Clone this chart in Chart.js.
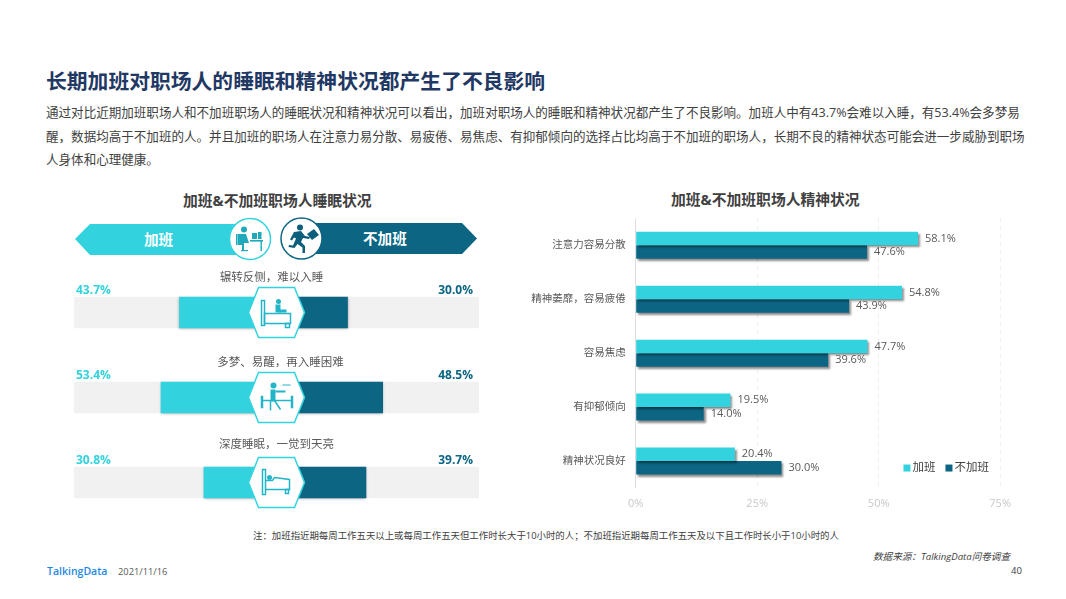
<!DOCTYPE html>
<html lang="zh-CN">
<head>
<meta charset="utf-8">
<title>长期加班对职场人的睡眠和精神状况都产生了不良影响</title>
<script src="https://cdn.jsdelivr.net/npm/chart.js@4/dist/chart.umd.min.js"></script>
<style>
  html, body { margin: 0; padding: 0; background: #fff; }
  body { width: 1066px; height: 599px; position: relative; overflow: hidden; font-family: "Open Sans", "Noto Sans CJK SC", sans-serif; }
  .txt { position: absolute; white-space: nowrap; }
  canvas, svg { position: absolute; }
  #title { left: 46px; top: 66px; font-size: 20.8px; line-height: 30px; font-weight: 700; color: #1f3864; }
  .para { left: 46px; font-size: 12.55px; line-height: 18px; color: #404040; }
  .sub { font-size: 14.8px; line-height: 20px; font-weight: 700; color: #404040; }
  .band { font-size: 14.6px; line-height: 20px; font-weight: 700; color: #fff; }
</style>
</head>
<body>
<div class="txt" id="title">长期加班对职场人的睡眠和精神状况都产生了不良影响</div>
<div class="txt para" style="top:104px">通过对比近期加班职场人和不加班职场人的睡眠状况和精神状况可以看出，加班对职场人的睡眠和精神状况都产生了不良影响。加班人中有43.7%会难以入睡，有53.4%会多梦易</div>
<div class="txt para" style="top:128px">醒，数据均高于不加班的人。并且加班的职场人在注意力易分散、易疲倦、易焦虑、有抑郁倾向的选择占比均高于不加班的职场人，长期不良的精神状态可能会进一步威胁到职场</div>
<div class="txt para" style="top:151px">人身体和心理健康。</div>

<div class="txt sub" style="left:183px;top:190px">加班&amp;不加班职场人睡眠状况</div>
<div class="txt sub" style="left:671px;top:189px">加班&amp;不加班职场人精神状况</div>

<svg style="left:70px;top:212px" width="415" height="54" viewBox="70 212 415 54">
  <polygon points="75,239 90,224 250,224 250,255 90,255" fill="#32d3de"/>
  <polygon points="300,223 462,223 477,238.5 462,254 300,254" fill="#0c6583"/>
  <circle cx="250" cy="239" r="20.5" fill="#fff" stroke="#32d3de" stroke-width="1.5"/>
  <circle cx="301.5" cy="238.5" r="20.5" fill="#fff" stroke="#0c6583" stroke-width="1.5"/>
  <g fill="#1fa9bb">
    <circle cx="244" cy="229.5" r="3"/>
    <path d="M238 234h8l3 9h-5v7h-2v-5h-4z"/>
    <rect x="236" y="234" width="1.6" height="11"/>
    <rect x="241" y="250" width="7" height="1.2"/>
    <rect x="250" y="240" width="13" height="1.6"/>
    <rect x="260.5" y="241" width="1.4" height="10"/>
    <rect x="252" y="233" width="5" height="6"/>
    <rect x="258" y="232" width="3.5" height="7"/>
  </g>
  <g fill="#0c5f7c">
    <circle cx="300" cy="227.5" r="3"/>
    <path d="M294 232l7-1 4 5 5 1-1 2-6-1-2 4 4 4v7h-2.500v-5.500l-5-3.500-3 4-6-1 .5-2 4 .5 3-7-2-1-2 3-2-1z"/>
    <path d="M307 234l7-5 5 6-7 5z"/>
  </g>
</svg>

<canvas id="sleepChart" width="405" height="255" style="left:74px;top:270px"></canvas>
<canvas id="moodChart" width="500" height="318" style="left:520px;top:202px"></canvas>

<div class="txt band" style="left:144px;top:229px">加班</div>
<div class="txt band" style="left:363px;top:228px">不加班</div>

<div class="txt" style="left:253px;top:529px;font-size:9.41px;line-height:14px;color:#404040">注：加班指近期每周工作五天以上或每周工作五天但工作时长大于10小时的人；不加班指近期每周工作五天及以下且工作时长小于10小时的人</div>
<div class="txt" style="left:873px;top:550px;font-size:9.6px;line-height:14px;font-style:italic;color:#404040">数据来源：TalkingData问卷调查</div>
<div class="txt" style="left:47px;top:564px;font-size:10.5px;line-height:14px;font-weight:600;color:#1e88e5">TalkingData</div>
<div class="txt" style="left:118px;top:565px;font-size:9.3px;line-height:14px;color:#595959">2021/11/16</div>
<div class="txt" style="left:1011px;top:564px;font-size:9.5px;line-height:14px;color:#404040">40</div>

<script>
const overtimeName = '加班';
const normalName = '不加班';
const cyan = '#32d3de';
const teal = '#0c6583';

// 睡眠状况
const sleepCategories = ['辗转反侧，难以入睡', '多梦、易醒，再入睡困难', '深度睡眠，一觉到天亮'];
const sleepOvertime = [43.7, 53.4, 30.8];
const sleepNormal = [30.0, 48.5, 39.7];

// both sides start at the edge of a hub hidden behind the hexagons
const sleepHub = 7.4;
const sleepAxisMax = 106.6;

// 精神状况
const moodCategories = ['注意力容易分散', '精神萎靡，容易疲倦', '容易焦虑', '有抑郁倾向', '精神状况良好'];
const moodOvertime = [58.1, 54.8, 47.7, 19.5, 20.4];
const moodNormal = [47.6, 43.9, 39.6, 14.0, 30.0];
const moodTicks = [0, 25, 50, 75];

const font = '"Open Sans", "Noto Sans CJK SC", sans-serif';

// icons are drawn around (0,0), in the middle of each hexagon
function iconAwake(ctx) {
  ctx.strokeRect(-15, -12, 3, 25);
  ctx.strokeRect(-12, 1, 26, 10);
  ctx.strokeRect(9, 11, 4, 4);
  ctx.beginPath(); ctx.arc(2, -11, 2.5, 0, Math.PI * 2); ctx.fill();
  ctx.fillRect(-1, -8, 5, 8);
  ctx.fillRect(3, -3, 7, 3);
}
function iconDream(ctx) {
  ctx.beginPath(); ctx.arc(-3, -12, 3, 0, Math.PI * 2); ctx.fill();
  ctx.fillRect(-6, -8, 5, 12);
  ctx.fillRect(-1, -7, 10, 2);
  ctx.beginPath(); ctx.moveTo(-6, 3); ctx.lineTo(-6, 13); ctx.moveTo(-2, 3); ctx.lineTo(4, 12); ctx.stroke();
  ctx.strokeRect(-15, -1, 1, 11);
  ctx.strokeRect(15, -1, 1, 11);
  ctx.beginPath(); ctx.moveTo(-15, 3); ctx.lineTo(15, 3); ctx.stroke();
  ctx.fillRect(6, -13, 8, 1);
}
function iconSleep(ctx) {
  ctx.strokeRect(-14, -13, 3, 25);
  ctx.beginPath(); ctx.arc(-7, -5, 2.5, 0, Math.PI * 2); ctx.fill();
  ctx.beginPath(); ctx.moveTo(-11, -2); ctx.lineTo(-4, -2); ctx.lineTo(-2, -5); ctx.lineTo(13, -3); ctx.lineTo(13, 7); ctx.lineTo(-11, 7); ctx.stroke();
  ctx.strokeRect(9, 7, 3, 4);
}
const sleepIcons = [iconAwake, iconDream, iconSleep];

// captions do not sit evenly over the rows in the original
const captionShift = [[-5, -35], [4, -35], [0, -38]];

const sleepDecor = {
  id: 'sleepDecor',
  beforeDatasetDraw(chart, args) {
    if (args.index > 1) return;
    chart.ctx.save();
    chart.ctx.shadowColor = 'rgba(0,0,0,0.35)';
    chart.ctx.shadowBlur = 3;
    chart.ctx.shadowOffsetY = 1;
  },
  afterDatasetDraw(chart, args) {
    if (args.index > 1) return;
    chart.ctx.restore();
  },
  afterDatasetsDraw(chart) {
    const ctx = chart.ctx;
    const x = chart.scales.x;
    const y = chart.scales.y;
    const cx = x.getPixelForValue(0);
    sleepCategories.forEach((name, i) => {
      const cy = y.getPixelForValue(i);
      const grad = ctx.createLinearGradient(cx - 22, cy - 22, cx + 22, cy + 22);
      grad.addColorStop(0, cyan);
      grad.addColorStop(1, teal);

      ctx.save();
      ctx.translate(cx, cy);
      ctx.beginPath();
      ctx.moveTo(-28, 0); ctx.lineTo(-18, -25); ctx.lineTo(18, -25);
      ctx.lineTo(28, 0); ctx.lineTo(18, 25); ctx.lineTo(-18, 25);
      ctx.closePath();
      ctx.fillStyle = '#fff';
      ctx.fill();
      ctx.lineWidth = 1.5;
      ctx.strokeStyle = grad;
      ctx.stroke();
      ctx.fillStyle = '#22b5c8';
      ctx.strokeStyle = '#22b5c8';
      ctx.lineWidth = 1.5;
      sleepIcons[i](ctx);
      ctx.restore();

      ctx.save();
      ctx.textBaseline = 'middle';
      ctx.font = '11.5px ' + font;
      ctx.fillStyle = '#595959';
      ctx.textAlign = 'center';
      ctx.fillText(name, cx + captionShift[i][0], cy + captionShift[i][1]);
      ctx.font = '700 12px ' + font;
      ctx.fillStyle = cyan;
      ctx.textAlign = 'left';
      ctx.fillText(sleepOvertime[i].toFixed(1) + '%', 2, cy - 22);
      ctx.fillStyle = teal;
      ctx.textAlign = 'right';
      ctx.fillText(sleepNormal[i].toFixed(1) + '%', chart.width - 6, cy - 22);
      ctx.restore();
    });
  }
};

new Chart(document.getElementById('sleepChart'), {
  type: 'bar',
  data: {
    labels: sleepCategories,
    datasets: [
      { label: overtimeName, data: sleepOvertime.map(v => [-sleepHub - v, -sleepHub]), backgroundColor: cyan, order: 1 },
      { label: normalName, data: sleepNormal.map(v => [sleepHub, sleepHub + v]), backgroundColor: teal, order: 2 },
      { label: 'track', data: sleepCategories.map(() => [-sleepAxisMax, sleepAxisMax]), backgroundColor: '#f1f1f1', order: 3 }
    ]
  },
  options: {
    indexAxis: 'y',
    responsive: false,
    animation: false,
    devicePixelRatio: 1,
    datasets: { bar: { grouped: false, barThickness: 31 } },
    layout: { padding: 0 },
    plugins: { legend: { display: false }, tooltip: { enabled: false } },
    scales: {
      x: { display: false, min: -sleepAxisMax, max: sleepAxisMax },
      y: { display: false }
    }
  },
  plugins: [sleepDecor]
});

const moodDecor = {
  id: 'moodDecor',
  beforeDatasetDraw(chart) {
    const ctx = chart.ctx;
    ctx.save();
    ctx.shadowColor = 'rgba(0,0,0,0.45)';
    ctx.shadowBlur = 2;
    ctx.shadowOffsetX = 2;
    ctx.shadowOffsetY = 2;
  },
  afterDatasetDraw(chart) {
    chart.ctx.restore();
  },
  afterDatasetsDraw(chart) {
    const ctx = chart.ctx;
    ctx.save();
    ctx.font = '11px ' + font;
    ctx.fillStyle = '#595959';
    ctx.textBaseline = 'middle';
    ctx.textAlign = 'left';
    chart.data.datasets.forEach((ds, d) => {
      chart.getDatasetMeta(d).data.forEach((bar, i) => {
        ctx.fillText(ds.data[i].toFixed(1) + '%', bar.x + 7, bar.y);
      });
    });

    // legend sits inside the plot, lower right
    const lastRow = chart.scales.y.getPixelForValue(moodCategories.length - 1);
    const lx = chart.scales.x.getPixelForValue(55.1);
    const ly = lastRow + 7;
    ctx.font = '11.5px ' + font;
    ctx.fillStyle = cyan;
    ctx.fillRect(lx, ly - 3.500, 7, 7);
    ctx.fillStyle = '#404040';
    ctx.fillText(overtimeName, lx + 9, ly);
    ctx.fillStyle = teal;
    ctx.fillRect(lx + 42, ly - 3.500, 7, 7);
    ctx.fillStyle = '#404040';
    ctx.fillText(normalName, lx + 51, ly);
    ctx.restore();
  }
};

new Chart(document.getElementById('moodChart'), {
  type: 'bar',
  data: {
    labels: moodCategories,
    datasets: [
      { label: overtimeName, data: moodOvertime, backgroundColor: cyan },
      { label: normalName, data: moodNormal, backgroundColor: teal }
    ]
  },
  options: {
    indexAxis: 'y',
    responsive: false,
    animation: false,
    devicePixelRatio: 1,
    layout: { autoPadding: false, padding: { top: 0, right: 19.7, left: 0, bottom: 0 } },
    datasets: { bar: { categoryPercentage: 0.5, barPercentage: 1 } },
    plugins: { legend: { display: false }, tooltip: { enabled: false } },
    scales: {
      x: {
        min: 0,
        max: 75,
        afterBuildTicks(axis) { axis.ticks = moodTicks.map(v => ({ value: v })); },
        afterFit(axis) { axis.height = 32; },
        border: {
          display: false,
          dash: ctx => ctx.tick && ctx.tick.value === 0 ? [] : [4, 4]
        },
        grid: {
          drawTicks: false,
          color: ctx => ctx.tick.value === 0 ? '#dddddd' : '#eeeeee',
          lineWidth: 1
        },
        ticks: {
          color: '#c8c8c8',
          font: { size: 11, family: font },
          padding: 9,
          maxRotation: 0,
          callback: v => v + '%'
        }
      },
      y: {
        afterFit(axis) { axis.width = 115.7; },
        border: { display: false },
        grid: { display: false, drawTicks: false },
        ticks: {
          color: '#595959',
          font: { size: 10.5, family: font },
          padding: 10,
          autoSkip: false
        }
      }
    }
  },
  plugins: [moodDecor]
});
</script>
</body>
</html>
